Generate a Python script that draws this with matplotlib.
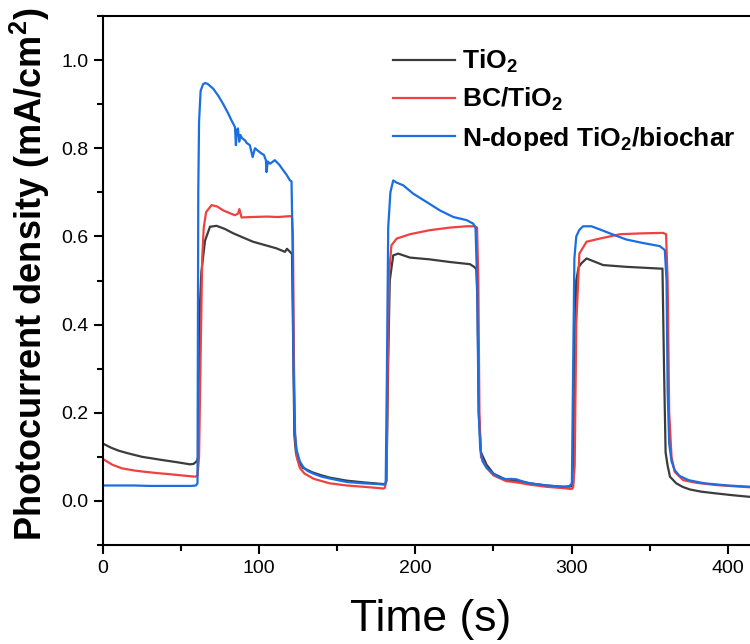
import matplotlib
matplotlib.use("Agg")
import matplotlib.pyplot as plt
from matplotlib.ticker import MultipleLocator

# photocurrent transients (time in s, current in mA/cm2)
t_tio2 = [0, 5, 10, 16, 25, 37.5, 47, 55.7, 58, 60,
          61, 62, 63, 65.3, 68.5, 72.7, 78, 83.4, 90, 96, 104, 111, 116.5, 117.8, 119.7, 121,
          121.8, 122.5, 123.5, 125, 128, 134, 139, 145, 156, 167, 177, 180.5,
          181.5, 182.5, 183.6, 185.8, 189, 196.5, 209, 222, 235, 238, 239,
          239.8, 240.6, 242, 245.6, 250, 258, 265, 273, 284, 295, 300,
          301, 302, 303, 304.5, 306.3, 309.6, 320.2, 335, 346, 356.5, 358.2,
          359.2, 360.2, 361.5, 363, 367, 371, 375.7, 383, 392.6, 403, 414, 420]
j_tio2 = [0.13, 0.121, 0.114, 0.108, 0.1, 0.093, 0.088, 0.083, 0.084, 0.09,
          0.1, 0.44, 0.52, 0.59, 0.622, 0.624, 0.617, 0.607, 0.597, 0.588, 0.58, 0.573, 0.565, 0.572, 0.565, 0.56,
          0.35, 0.15, 0.11, 0.09, 0.075, 0.065, 0.059, 0.053, 0.046, 0.042, 0.039, 0.038,
          0.045, 0.3, 0.5, 0.557, 0.561, 0.552, 0.548, 0.542, 0.537, 0.53, 0.525,
          0.45, 0.2, 0.11, 0.082, 0.062, 0.048, 0.045, 0.04, 0.035, 0.032, 0.033,
          0.04, 0.35, 0.5, 0.53, 0.539, 0.55, 0.535, 0.531, 0.529, 0.527, 0.527,
          0.3, 0.11, 0.08, 0.055, 0.04, 0.032, 0.026, 0.021, 0.017, 0.013, 0.0093, 0.008]

t_bc = [0, 6, 12, 20, 27, 35, 41.6, 50, 59, 60.5,
        61.5, 62.5, 63.5, 64.5, 66, 69.5, 73, 77, 81, 84.5, 86.5, 87.3, 88.7, 95, 105, 112, 119.7, 121,
        121.6, 122.3, 123, 124, 126, 129, 135, 145, 156, 167, 177, 179.5,
        180.5, 181.5, 182.5, 183.2, 184.7, 188, 196.5, 209, 222, 232.8, 238, 239.5,
        240.3, 241, 242, 245.6, 250, 258, 265, 273, 284, 294.6, 300,
        301, 302, 303, 305, 309.6, 318, 331, 345.8, 358.6, 360.5,
        361.5, 362.5, 364, 366, 371.5, 380, 392.6, 405, 414, 420]
j_bc = [0.095, 0.082, 0.074, 0.069, 0.066, 0.063, 0.061, 0.058, 0.055, 0.057,
        0.1, 0.33, 0.55, 0.62, 0.655, 0.671, 0.668, 0.659, 0.653, 0.648, 0.652, 0.662, 0.643, 0.644, 0.645, 0.644, 0.646, 0.645,
        0.6, 0.3, 0.15, 0.1, 0.075, 0.062, 0.05, 0.04, 0.035, 0.032, 0.029, 0.028,
        0.03, 0.05, 0.35, 0.52, 0.58, 0.595, 0.605, 0.614, 0.62, 0.623, 0.623, 0.62,
        0.5, 0.2, 0.1, 0.075, 0.058, 0.045, 0.042, 0.037, 0.032, 0.029, 0.027,
        0.03, 0.08, 0.4, 0.561, 0.588, 0.595, 0.605, 0.607, 0.608, 0.605,
        0.5, 0.2, 0.1, 0.066, 0.047, 0.041, 0.036, 0.033, 0.031, 0.03]

t_ntb = [0, 20, 30, 45, 56.7, 59.5, 60.5,
         61, 61.5, 62.5, 64, 65.3, 67, 70.6, 74, 77, 80, 82.3, 84.5, 85.1, 85.6, 86.4, 87.2, 88, 89,
         90.9, 92, 94, 95.8, 97.3, 99, 101.5, 103, 104.3, 104.7, 105.5, 107, 110, 113, 115.4, 117.5,
         119.7, 120.7,
         121.3, 122, 122.9, 124, 126, 128.2, 131, 134.6, 140, 145, 156, 166.6, 177, 180,
         181, 181.8, 182.6, 184, 185.8, 188, 192.2, 198.6, 207.2, 215.7, 224.3, 232.8, 237, 238.5,
         239.5, 240.5, 241.5, 243, 245.6, 249.8, 254, 258.4, 261, 264.7, 268, 273.3, 284, 294.6, 298.5, 300.2,
         301, 301.8, 303, 305, 307.4, 312.7, 318, 324.5, 335, 345.8, 356.5, 359.7,
         360.8, 361.5, 362.5, 364, 366, 369, 375, 385, 400, 420]
j_ntb = [0.035, 0.035, 0.034, 0.034, 0.034, 0.035, 0.04,
         0.7, 0.86, 0.93, 0.945, 0.948, 0.946, 0.935, 0.918, 0.9, 0.88, 0.863, 0.848, 0.807, 0.84, 0.845, 0.815, 0.83, 0.823,
         0.818, 0.812, 0.807, 0.78, 0.8, 0.795, 0.788, 0.785, 0.773, 0.746, 0.77, 0.765, 0.773, 0.762, 0.75, 0.74,
         0.727, 0.725,
         0.6, 0.3, 0.153, 0.115, 0.09, 0.077, 0.068, 0.062, 0.055, 0.051, 0.043, 0.04, 0.038, 0.037,
         0.04, 0.3, 0.62, 0.7, 0.727, 0.722, 0.716, 0.697, 0.678, 0.659, 0.644, 0.637, 0.629, 0.62,
         0.5, 0.2, 0.12, 0.09, 0.075, 0.062, 0.053, 0.049, 0.05, 0.049, 0.045, 0.04, 0.035, 0.032, 0.033, 0.04,
         0.3, 0.55, 0.6, 0.615, 0.623, 0.623, 0.616, 0.607, 0.593, 0.585, 0.578, 0.569,
         0.5, 0.25, 0.13, 0.09, 0.07, 0.057, 0.047, 0.04, 0.035, 0.031]

labels = ["TiO$_2$", "BC/TiO$_2$", "N-doped TiO$_2$/biochar"]
colors = ["#3c3c3c", "#f04040", "#1a6ee0"]

plt.rcParams["font.family"] = ["Liberation Sans", "DejaVu Sans"]
plt.rcParams["mathtext.default"] = "regular"

fig = plt.figure(figsize=(7.5, 6.44), dpi=100)
# the axes run past the right edge, the original picture is cropped there
ax = fig.add_axes([103 / 750, 99 / 644, 656 / 750, 529 / 644])

for t, j, lab, c in zip([t_tio2, t_bc, t_ntb], [j_tio2, j_bc, j_ntb], labels, colors):
    ax.plot(t, j, color=c, lw=1.6, label=lab)

ax.set_xlim(0, 420)
ax.set_ylim(-0.1, 1.1)
ax.xaxis.set_major_locator(MultipleLocator(100))
ax.xaxis.set_minor_locator(MultipleLocator(50))
ax.yaxis.set_major_locator(MultipleLocator(0.2))
ax.yaxis.set_minor_locator(MultipleLocator(0.1))
ax.yaxis.set_major_formatter(matplotlib.ticker.FormatStrFormatter("%.1f"))
ax.tick_params(which="both", direction="out", width=1.5, labelsize=14, top=False, right=False)
ax.tick_params(which="major", length=6.5, pad=4)
ax.tick_params(which="minor", length=4.5)
for s in ax.spines.values():
    s.set_linewidth(1.5)

ax.set_xlabel("Time (s)", fontsize=32, labelpad=16)
ax.set_ylabel("Photocurrent density (mA/cm$^2$)", fontsize=26, fontweight="bold")
ax.yaxis.set_label_coords(-0.078, 0.512)

ax.legend(loc="upper left", bbox_to_anchor=(393 / 750, 1 - 48 / 644), bbox_transform=fig.transFigure,
          frameon=False, prop={"weight": "bold", "size": 19}, handlelength=2.35, handletextpad=0.28,
          labelspacing=0.42, borderpad=0, borderaxespad=0)

plt.savefig("out.png", dpi=100)
